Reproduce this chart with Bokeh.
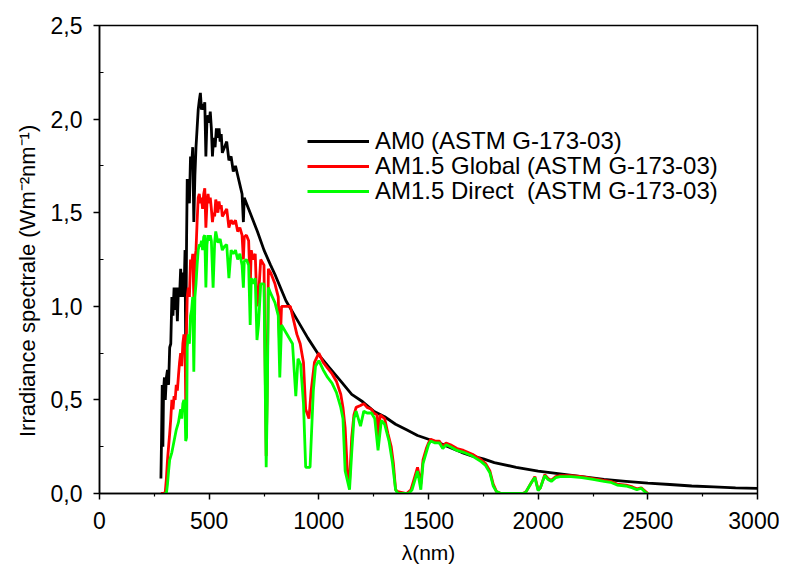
from bokeh.plotting import figure
from bokeh.models import FixedTicker, Legend, LegendItem, Range1d
from bokeh.embed import file_html
from bokeh.resources import INLINE

# ---- AM0 (ASTM G-173-03) ----
am0_wl = [280, 283, 286, 289, 292, 296, 300, 305, 310, 315, 320, 325, 330, 335, 340, 345, 350, 355,
          360, 365, 370, 375, 380, 385, 390, 393, 397, 400, 405, 410, 415, 420, 425, 430, 435, 440,
          445, 450, 455, 460, 465, 470, 475, 480, 485, 490, 495, 500, 505, 510, 515, 520, 527, 533,
          540, 545, 550, 555, 560, 570, 580, 590, 600, 610, 620, 630, 640, 650, 656, 660, 680, 700,
          720, 750, 780, 800, 850, 900, 950, 1000, 1050, 1100, 1150, 1200, 1250, 1300, 1350, 1400,
          1450, 1500, 1550, 1600, 1650, 1700, 1750, 1800, 1900, 2000, 2100, 2200, 2300, 2400, 2500,
          2600, 2700, 2800, 2900, 3000]
am0_val = [0.08, 0.30, 0.58, 0.25, 0.55, 0.62, 0.50, 0.62, 0.66, 0.58, 0.78, 0.80, 1.05, 0.95, 1.10,
           0.98, 1.10, 0.92, 1.10, 1.05, 1.20, 1.05, 1.18, 1.05, 1.30, 0.75, 1.35, 1.68, 1.65, 1.55,
           1.80, 1.75, 1.85, 1.45, 1.70, 1.85, 1.95, 2.05, 2.10, 2.14, 2.05, 2.08, 2.05, 2.09, 1.80,
           2.00, 2.02, 1.98, 2.04, 1.95, 1.80, 1.90, 1.85, 1.95, 1.90, 1.95, 1.88, 1.92, 1.82, 1.85,
           1.88, 1.78, 1.80, 1.72, 1.75, 1.70, 1.65, 1.60, 1.45, 1.58, 1.52, 1.46, 1.40, 1.30, 1.22,
           1.17, 1.03, 0.93, 0.83, 0.74, 0.67, 0.60, 0.53, 0.49, 0.44, 0.41, 0.37, 0.34, 0.31, 0.29,
           0.27, 0.245, 0.22, 0.20, 0.185, 0.165, 0.14, 0.12, 0.105, 0.09, 0.075, 0.065, 0.055, 0.048,
           0.04, 0.035, 0.03, 0.027]

# ---- AM1.5 Global (ASTM G-173-03) ----
glob_wl = [280, 295, 300, 305, 310, 315, 320, 325, 330, 335, 340, 345, 350, 355, 360, 365, 370, 375,
           380, 385, 390, 393, 397, 400, 405, 410, 415, 420, 425, 430, 435, 440, 445, 450, 455, 460,
           465, 470, 475, 480, 485, 490, 495, 500, 505, 510, 515, 520, 525, 530, 535, 540, 545, 550,
           555, 560, 570, 580, 590, 600, 610, 620, 630, 640, 650, 656, 660, 670, 680, 687, 692, 700,
           710, 718, 725, 735, 750, 760, 765, 770, 780, 800, 815, 822, 830, 850, 870, 880, 900, 915,
           930, 940, 955, 965, 980, 1000, 1020, 1040, 1060, 1080, 1100, 1110, 1120, 1130, 1140, 1150,
           1160, 1170, 1190, 1205, 1220, 1240, 1250, 1265, 1270, 1280, 1300, 1315, 1330, 1340, 1350,
           1360, 1400, 1420, 1440, 1450, 1465, 1475, 1490, 1500, 1510, 1530, 1550, 1565, 1580, 1600,
           1630, 1660, 1700, 1740, 1760, 1780, 1795, 1810, 1830, 1930, 1945, 1970, 1985, 2000, 2010,
           2030, 2045, 2060, 2080, 2100, 2150, 2200, 2250, 2300, 2330, 2360, 2400, 2430, 2450, 2470,
           2490, 2500]
glob_val = [0.0, 0.0, 0.01, 0.08, 0.18, 0.25, 0.32, 0.40, 0.50, 0.45, 0.52, 0.50, 0.58, 0.55, 0.63,
            0.70, 0.75, 0.68, 0.80, 0.85, 0.80, 0.50, 0.90, 1.05, 1.10, 1.05, 1.25, 1.22, 1.28, 1.05,
            1.25, 1.30, 1.45, 1.58, 1.60, 1.55, 1.58, 1.52, 1.60, 1.63, 1.42, 1.55, 1.60, 1.55, 1.58,
            1.52, 1.45, 1.50, 1.48, 1.57, 1.54, 1.50, 1.56, 1.52, 1.54, 1.48, 1.50, 1.52, 1.42, 1.46,
            1.44, 1.46, 1.40, 1.42, 1.38, 1.25, 1.37, 1.38, 1.35, 1.10, 1.30, 1.25, 1.28, 1.00, 1.05,
            1.25, 1.22, 0.20, 0.60, 1.20, 1.18, 1.12, 1.05, 0.75, 1.00, 1.00, 1.00, 0.95, 0.85, 0.80,
            0.70, 0.45, 0.40, 0.55, 0.70, 0.75, 0.70, 0.67, 0.64, 0.60, 0.53, 0.46, 0.35, 0.12, 0.06,
            0.30, 0.42, 0.46, 0.47, 0.48, 0.46, 0.45, 0.43, 0.42, 0.30, 0.42, 0.40, 0.32, 0.25, 0.16,
            0.02, 0.01, 0.0, 0.02, 0.10, 0.14, 0.05, 0.18, 0.24, 0.27, 0.29, 0.28, 0.28, 0.25, 0.27,
            0.26, 0.24, 0.23, 0.21, 0.18, 0.16, 0.12, 0.05, 0.01, 0.0, 0.0, 0.01, 0.06, 0.09, 0.02,
            0.03, 0.10, 0.08, 0.07, 0.09, 0.095, 0.095, 0.09, 0.08, 0.07, 0.065, 0.05, 0.045, 0.035,
            0.025, 0.03, 0.01, 0.0]

# ---- AM1.5 Direct (ASTM G-173-03) ----
dir_wl = [295, 305, 310, 315, 320, 330, 340, 350, 360, 370, 375, 380, 385, 390, 393, 397, 400, 405,
          410, 415, 420, 425, 430, 435, 440, 445, 450, 455, 460, 465, 470, 475, 480, 485, 490, 495,
          500, 505, 510, 518, 525, 530, 540, 550, 560, 570, 580, 590, 600, 610, 620, 630, 640, 650,
          656, 660, 670, 680, 687, 692, 700, 710, 718, 725, 735, 750, 760, 765, 770, 780, 800, 815,
          822, 830, 850, 870, 880, 895, 905, 917, 930, 940, 960, 975, 985, 1000, 1020, 1040, 1060,
          1080, 1100, 1110, 1120, 1140, 1150, 1160, 1170, 1190, 1205, 1220, 1240, 1255, 1270, 1285,
          1300, 1320, 1335, 1350, 1360, 1410, 1425, 1440, 1450, 1465, 1475, 1490, 1500, 1510, 1530,
          1550, 1565, 1580, 1600, 1630, 1660, 1700, 1740, 1760, 1780, 1795, 1810, 1830, 1935, 1945,
          1970, 1985, 2000, 2010, 2030, 2045, 2060, 2080, 2100, 2150, 2200, 2250, 2300, 2330, 2360,
          2400, 2430, 2450, 2470, 2490, 2500]
dir_val = [0.0, 0.0, 0.05, 0.12, 0.18, 0.22, 0.28, 0.34, 0.38, 0.45, 0.40, 0.48, 0.50, 0.45, 0.28,
           0.30, 0.78, 0.85, 0.80, 0.95, 0.98, 1.05, 0.65, 1.05, 1.12, 1.22, 1.30, 1.33, 1.32, 1.35,
           1.30, 1.37, 1.38, 1.10, 1.33, 1.38, 1.35, 1.38, 1.35, 1.10, 1.34, 1.40, 1.34, 1.36, 1.30,
           1.32, 1.33, 1.15, 1.30, 1.28, 1.30, 1.25, 1.28, 1.22, 1.10, 1.24, 1.25, 1.22, 0.90, 1.15,
           1.12, 1.15, 0.82, 0.90, 1.12, 1.12, 0.14, 0.50, 1.10, 1.07, 1.02, 0.95, 0.62, 0.90, 0.86,
           0.82, 0.80, 0.52, 0.72, 0.69, 0.48, 0.14, 0.14, 0.55, 0.68, 0.71, 0.66, 0.62, 0.59, 0.54,
           0.46, 0.40, 0.12, 0.02, 0.22, 0.40, 0.44, 0.36, 0.44, 0.43, 0.43, 0.40, 0.23, 0.39, 0.37,
           0.28, 0.17, 0.02, 0.0, 0.0, 0.02, 0.08, 0.12, 0.02, 0.16, 0.22, 0.26, 0.28, 0.27, 0.27,
           0.24, 0.26, 0.25, 0.23, 0.22, 0.20, 0.17, 0.15, 0.11, 0.04, 0.01, 0.0, 0.0, 0.01, 0.06,
           0.085, 0.015, 0.03, 0.095, 0.075, 0.065, 0.085, 0.09, 0.09, 0.085, 0.075, 0.065, 0.06,
           0.045, 0.04, 0.03, 0.02, 0.028, 0.005, 0.0]

series_labels = ["AM0 (ASTM G-173-03)", "AM1.5 Global (ASTM G-173-03)", "AM1.5 Direct  (ASTM G-173-03)"]
x_ticks = [0, 500, 1000, 1500, 2000, 2500, 3000]
x_minor = [250, 750, 1250, 1750, 2250, 2750]
y_ticks = [0.0, 0.5, 1.0, 1.5, 2.0, 2.5]
y_tick_labels = ["0,0", "0,5", "1,0", "1,5", "2,0", "2,5"]
y_minor = [0.25, 0.75, 1.25, 1.75, 2.25]

FONT = "Liberation Sans"

p = figure(frame_width=658, frame_height=468, output_backend="svg", toolbar_location=None,
           x_range=Range1d(0, 3000), y_range=Range1d(0, 2.5),
           min_border_left=99, min_border_top=25, min_border_right=22, min_border_bottom=66)
p.background_fill_color = "white"
p.border_fill_color = "white"
p.grid.visible = False
p.outline_line_color = "black"
p.outline_line_width = 1.5

r0 = p.line(am0_wl, am0_val, line_color="black", line_width=2.8)
r1 = p.line(glob_wl, glob_val, line_color="#ff0000", line_width=2.8)
r2 = p.line(dir_wl, dir_val, line_color="#00ff00", line_width=2.8)

for ax in (p.xaxis[0], p.yaxis[0]):
    ax.axis_line_width = 1.5
    ax.major_tick_line_width = 1.5
    ax.minor_tick_line_width = 1.2
    ax.major_tick_in = 0
    ax.major_tick_out = 6
    ax.major_label_text_font = FONT
    ax.major_label_text_font_size = "23px"
    ax.major_label_text_color = "black"
    ax.axis_label_text_font = FONT
    ax.axis_label_text_font_style = "normal"
    ax.axis_label_text_color = "black"

p.xaxis.ticker = FixedTicker(ticks=x_ticks, minor_ticks=x_minor)
p.yaxis.ticker = FixedTicker(ticks=y_ticks, minor_ticks=y_minor)
p.yaxis.major_label_overrides = {t: l for t, l in zip(y_ticks, y_tick_labels)}
p.xaxis.minor_tick_in = 0
p.xaxis.minor_tick_out = 3
p.yaxis.minor_tick_in = 4
p.yaxis.minor_tick_out = 0
p.xaxis.major_label_standoff = 12
p.yaxis.major_label_standoff = 11
p.xaxis.axis_label = "λ(nm)"
p.yaxis.axis_label = "Irradiance spectrale (Wm⁻²nm⁻¹)" + "\u00a0" * 7
p.xaxis.axis_label_text_font_size = "21px"
p.yaxis.axis_label_text_font_size = "22px"
p.xaxis.axis_label_standoff = 9
p.yaxis.axis_label_standoff = 8

renderers = [r0, r1, r2]
legend_y = [338, 313, 288]
for lab, rr, ly in zip(series_labels, renderers, legend_y):
    lg = Legend(items=[LegendItem(label=lab, renderers=[rr])], location=(208, ly))
    lg.border_line_color = None
    lg.background_fill_alpha = 0
    lg.padding = 0
    lg.margin = 0
    lg.spacing = 0
    lg.glyph_width = 62
    lg.glyph_height = 20
    lg.label_height = 20
    lg.label_standoff = 6
    lg.label_text_font = FONT
    lg.label_text_font_size = "24px"
    lg.label_text_color = "black"
    p.add_layout(lg, "center")

open("out.html", "w").write(file_html(p, INLINE))
